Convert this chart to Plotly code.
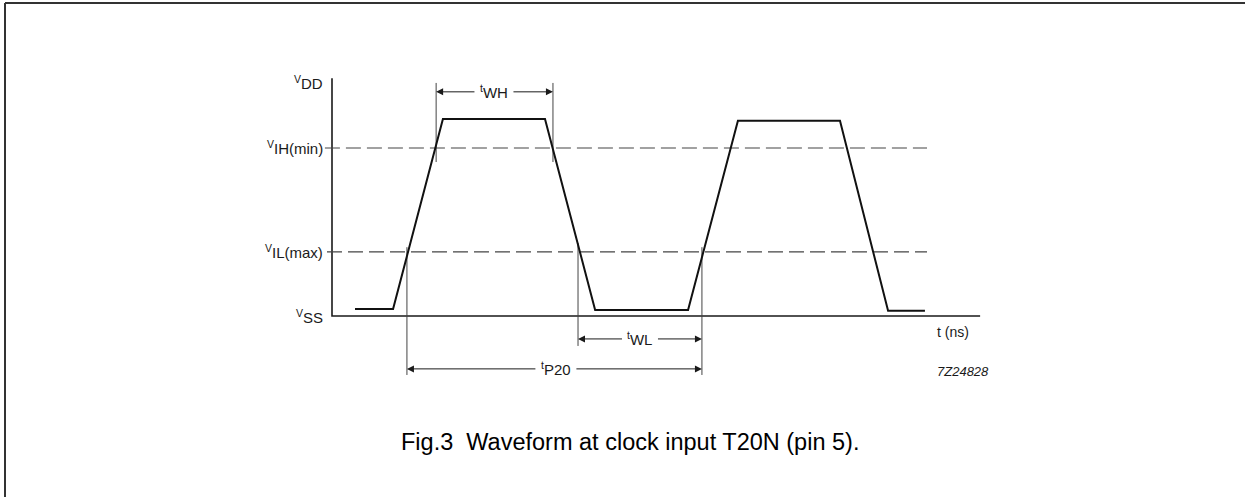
import plotly.graph_objects as go

# ---------------- data (t in ns, level in V) ----------------
wave_t = [7.8, 20.7, 37.6, 72.2, 89.2, 120.7, 137.6, 172.2, 188.5, 201.0]
wave_v = [0.15, 0.15, 4.21, 4.21, 0.13, 0.13, 4.17, 4.17, 0.11, 0.11]

level_values = [0.0, 1.37, 3.59, 5.0]
level_labels = ["<sup>V</sup>SS", "<sup>V</sup>IL(max)", "<sup>V</sup>IH(min)", "<sup>V</sup>DD"]

threshold_values = [3.59, 1.37]
threshold_start = [-2.4, -1.7]
threshold_end = [201.7, 201.7]

axis_t_end = 219.7
axis_v_top = 5.08

marker_t = [25.4, 35.3, 74.9, 83.4, 125.4]
marker_top = [1.47, 4.98, 4.98, 1.56, 1.47]
marker_bottom = [-1.26, 3.29, 3.29, -0.64, -1.26]

interval_labels = ["<sup>t</sup>WH", "<sup>t</sup>WL", "<sup>t</sup>P20"]
interval_start = [35.3, 83.4, 25.4]
interval_end = [74.9, 125.4, 125.4]
interval_level = [4.79, -0.49, -1.13]
interval_label_t = [54.9, 104.4, 75.9]

axis_title = "t (ns)"
figure_code = "7Z24828"
caption = "Fig.3  Waveform at clock input T20N (pin 5)."

# ---------------- layout geometry ----------------
W, H = 1245, 497
ORIGIN_X, ORIGIN_Y = 332, 316      # pixel position of t=0, V=0
PX_PER_NS, PX_PER_V = 2.95, 46.8
x_range = [-ORIGIN_X / PX_PER_NS, (W - ORIGIN_X) / PX_PER_NS]
y_range = [-(H - ORIGIN_Y) / PX_PER_V, ORIGIN_Y / PX_PER_V]

FONT = "Liberation Sans, Arial, Helvetica, sans-serif"
INK = "#1a1a1a"

fig = go.Figure()

# axes drawn as lines
fig.add_trace(go.Scatter(x=[0, 0, axis_t_end], y=[axis_v_top, 0, 0], mode="lines",
                         line=dict(color=INK, width=1.6), hoverinfo="skip"))

# threshold dashed lines
for v, s, e in zip(threshold_values, threshold_start, threshold_end):
    fig.add_trace(go.Scatter(x=[s, e], y=[v, v], mode="lines",
                             line=dict(color="#444444", width=1.1, dash="15px,6px"),
                             hoverinfo="skip"))

# extension (marker) lines
for t, top, bot in zip(marker_t, marker_top, marker_bottom):
    fig.add_trace(go.Scatter(x=[t, t], y=[bot, top], mode="lines",
                             line=dict(color="#444444", width=1), hoverinfo="skip"))

# waveform
fig.add_trace(go.Scatter(x=wave_t, y=wave_v, mode="lines",
                         line=dict(color="#111111", width=2), hoverinfo="skip"))

annotations = []
# level labels
for v, lab in zip(level_values, level_labels):
    annotations.append(dict(x=0, y=v, xref="x", yref="y", text=lab, showarrow=False,
                            xanchor="right", yanchor="middle", xshift=-7,
                            font=dict(family=FONT, size=15, color=INK)))

# interval dimension arrows
for lab, s, e, lv, lt in zip(interval_labels, interval_start, interval_end,
                             interval_level, interval_label_t):
    for end, col in ((s, INK), (e, "rgba(0,0,0,0)")):
        annotations.append(dict(x=end, y=lv, xref="x", yref="y",
                                ax=lt, ay=lv, axref="x", ayref="y",
                                text=lab, showarrow=True, arrowhead=2, arrowsize=1.4,
                                arrowwidth=1, arrowcolor=INK, standoff=0, borderpad=5,
                                font=dict(family=FONT, size=15, color=col)))

annotations.append(dict(x=210.5, y=-0.34, xref="x", yref="y", text=axis_title,
                        showarrow=False, font=dict(family=FONT, size=14, color=INK)))
annotations.append(dict(x=213.9, y=-1.19, xref="x", yref="y",
                        text="<i>" + figure_code + "</i>", showarrow=False,
                        font=dict(family=FONT, size=13, color=INK)))
annotations.append(dict(x=630 / W, y=1 - 457 / H, xref="paper", yref="paper",
                        text=caption, showarrow=False,
                        font=dict(family=FONT, size=23.5, color="#000000")))

shapes = [
    dict(type="line", xref="paper", yref="paper", x0=5 / W, x1=1, y0=1 - 3 / H, y1=1 - 3 / H,
         line=dict(color="#333333", width=2)),
    dict(type="line", xref="paper", yref="paper", x0=5 / W, x1=5 / W, y0=0, y1=1 - 3 / H,
         line=dict(color="#333333", width=2)),
]

fig.update_layout(
    width=W, height=H, margin=dict(l=0, r=0, t=0, b=0),
    paper_bgcolor="white", plot_bgcolor="white", showlegend=False,
    xaxis=dict(range=x_range, visible=False, fixedrange=True),
    yaxis=dict(range=y_range, visible=False, fixedrange=True),
    annotations=annotations, shapes=shapes,
)

fig.write_html("out.html", config={"displayModeBar": False},
               post_script="document.body.style.margin='0px';")
